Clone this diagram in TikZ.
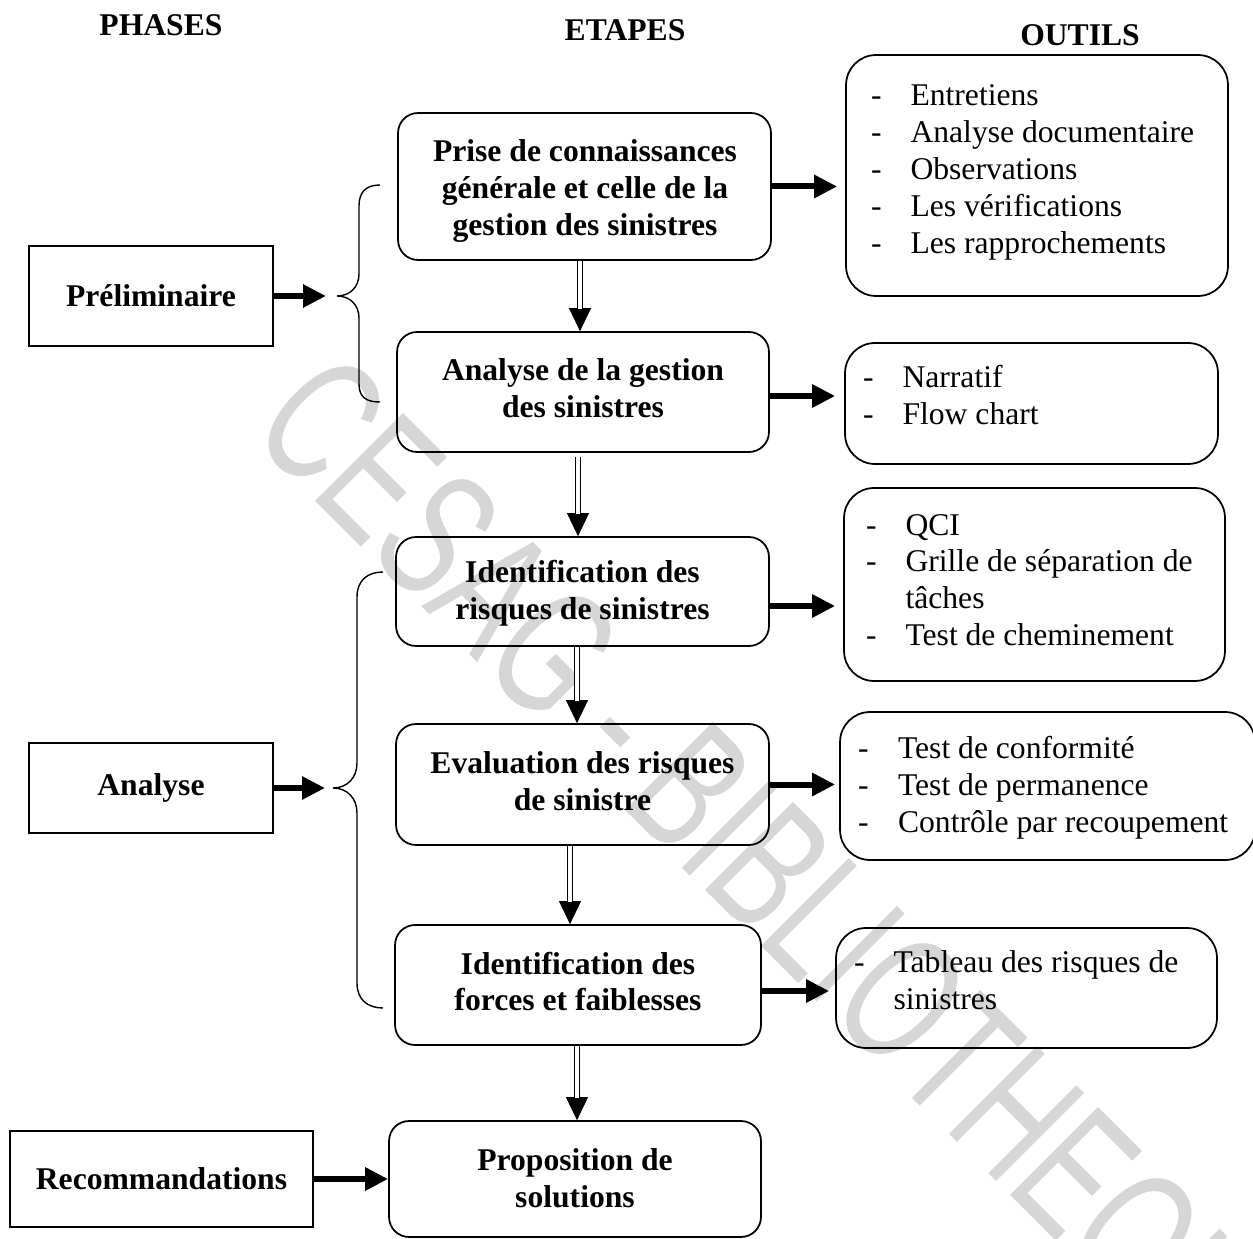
\documentclass[tikz,border=0pt]{standalone}
\usepackage{fontspec}
\setmainfont{Liberation Serif}
\newfontfamily\wmfont{Liberation Sans}
\usetikzlibrary{arrows.meta,calc}
\newcommand\dblarrow[2]{%
  \draw[vtip] #1 -- #2;
  \draw[vshaft] #1 -- #2;}
\begin{document}
\begin{tikzpicture}[x=0.02cm,y=-0.02cm,
  phasebox/.style={draw, line width=1pt, inner sep=0pt,
    font=\fontsize{18}{21}\selectfont\bfseries},
  stepbox/.style={draw, line width=1pt, rounded corners=0.4cm, inner sep=0pt},
  toolbox/.style={draw, line width=1pt, rounded corners=0.6cm, inner sep=0pt},
  steptext/.style={align=center, inner sep=0pt,
    font=\fontsize{18}{21}\selectfont\bfseries},
  tooltext/.style={anchor=west, inner sep=0pt, font=\fontsize{18}{21}\selectfont},
  header/.style={inner sep=0pt, font=\fontsize{18}{21}\selectfont\bfseries},
  harrow/.style={line width=0.12cm, -{Triangle[length=0.46cm,width=0.44cm]}},
  vtip/.style={line width=0.4pt, -{Triangle[length=0.46cm,width=0.44cm]}},
  vshaft/.style={line width=0.03cm, double, double distance=0.07cm, shorten >=0.45cm},
  brace/.style={line width=0.8pt},
  watermark/.style={transform shape, inner sep=0pt, text=black!16,
    font=\wmfont\fontsize{103}{120}\selectfont}
]
\useasboundingbox (0,0) rectangle (1253,1239);

% watermark
\begin{scope}[shift={(778,898)}, rotate=-45, xscale=0.66]
  \node[watermark] (wm) at (0,0) {CESAG - BIBLIOTHEQUE};
\end{scope}

% headers
\node[header] (hPhases) at (161,25) {PHASES};
\node[header] (hEtapes) at (625,30) {ETAPES};
\node[header] (hOutils) at (1080,35) {OUTILS};

% phases
\node[phasebox, minimum width=4.88cm, minimum height=2.0cm] (P1) at (151,296) {Préliminaire};
\node[phasebox, minimum width=4.88cm, minimum height=1.8cm] (P2) at (151,788) {Analyse};
\node[phasebox, minimum width=6.06cm, minimum height=1.92cm] (P3) at (161.5,1179) {Recommandations};

% steps
\node[stepbox, minimum width=7.46cm, minimum height=2.94cm] (S1) at (584.5,186.5) {};
\node[stepbox, minimum width=7.44cm, minimum height=2.4cm] (S2) at (583,392) {};
\node[stepbox, minimum width=7.46cm, minimum height=2.18cm] (S3) at (582.5,591.5) {};
\node[stepbox, minimum width=7.46cm, minimum height=2.42cm] (S4) at (582.5,784.5) {};
\node[stepbox, minimum width=7.32cm, minimum height=2.4cm] (S5) at (578,985) {};
\node[stepbox, minimum width=7.44cm, minimum height=2.32cm] (S6) at (575,1179) {};

\node[steptext] (S1t) at (585,191) {Prise de connaissances\\générale et celle de la\\gestion des sinistres};
\node[steptext] (S2t) at (583,388.5) {Analyse de la gestion\\des sinistres};
\node[steptext] (S3t) at (582.5,593.5) {Identification des\\risques de sinistres};
\node[steptext] (S4t) at (582.5,781) {Evaluation des risques\\de sinistre};
\node[steptext] (S5t) at (578,981.5) {Identification des\\forces et faiblesses};
\node[steptext] (S6t) at (575,1178.5) {Proposition de\\solutions};

% tools
\node[toolbox, minimum width=7.64cm, minimum height=4.82cm] (T1) at (1037,175.5) {};
\node[toolbox, minimum width=7.46cm, minimum height=2.42cm] (T2) at (1031.5,403.5) {};
\node[toolbox, minimum width=7.62cm, minimum height=3.86cm] (T3) at (1034.5,584.5) {};
\node[toolbox, minimum width=8.3cm, minimum height=2.96cm] (T4) at (1047.5,786) {};
\node[toolbox, minimum width=7.62cm, minimum height=2.4cm] (T5) at (1026.5,988) {};

\node[tooltext] (T1t) at (870.7,172) {\begin{tabular}{@{}p{0.79cm}@{}l@{}}
- & Entretiens\\ - & Analyse documentaire\\ - & Observations\\ - & Les vérifications\\ - & Les rapprochements\end{tabular}};
\node[tooltext] (T2t) at (862.7,398.5) {\begin{tabular}{@{}p{0.79cm}@{}l@{}}
- & Narratif\\ - & Flow chart\end{tabular}};
\node[tooltext] (T3t) at (865.7,583) {\begin{tabular}{@{}p{0.79cm}@{}l@{}}
- & QCI\\ - & Grille de séparation de\\ & tâches\\ - & Test de cheminement\end{tabular}};
\node[tooltext] (T4t) at (857.7,788) {\begin{tabular}{@{}p{0.8cm}@{}l@{}}
- & Test de conformité\\ - & Test de permanence\\ - & Contrôle par recoupement\end{tabular}};
\node[tooltext] (T5t) at (853.7,983.5) {\begin{tabular}{@{}p{0.79cm}@{}l@{}}
- & Tableau des risques de\\ & sinistres\end{tabular}};

% braces
\draw[brace] (380,185) .. controls (366,185) and (359,192) .. (359,206) -- (359,274)
  .. controls (359,287) and (350,296) .. (337,296)
  .. controls (350,296) and (359,305) .. (359,318) -- (359,384)
  .. controls (359,397) and (366,402) .. (380,402);
\draw[brace] (383,572) .. controls (368,572) and (357,580) .. (357,597) -- (357,763)
  .. controls (357,778) and (347,788) .. (333,788)
  .. controls (347,788) and (357,798) .. (357,813) -- (357,983)
  .. controls (357,1000) and (368,1008) .. (383,1008);
\coordinate (B1) at (326,296);
\coordinate (B2) at (325,788);

% phase arrows
\draw[harrow] (P1.east) -- (B1);
\draw[harrow] (P2.east) -- (B2);
\draw[harrow] (P3.east) -- (S6.west |- P3.east);

% step -> tool arrows
\draw[harrow] (S1.east) -- ($(S1.east -| T1.west)+(-8,0)$);
\draw[harrow] ($(S2.east)+(0,4)$) -- ($(S2.east -| T2.west)+(-9,4)$);
\draw[harrow] ($(S3.east)+(0,14.5)$) -- ($(S3.east -| T3.west)+(-8,14.5)$);
\draw[harrow] (S4.east) -- ($(S4.east -| T4.west)+(-4,0)$);
\draw[harrow] ($(S5.east)+(0,6)$) -- ($(S5.east -| T5.west)+(-6,6)$);

% step -> step double arrows
\dblarrow{($(S1.south)+(-4.5,0)$)}{($(S2.north)+(-3,0)$)}
\dblarrow{($(S2.south)+(-5,4)$)}{($(S3.north)+(-4.5,0)$)}
\dblarrow{($(S3.south)+(-5.5,0)$)}{($(S4.north)+(-5.5,0)$)}
\dblarrow{($(S4.south)+(-12.5,0)$)}{($(S5.north)+(-8,0)$)}
\dblarrow{($(S5.south)+(-1,0)$)}{($(S6.north)+(2,0)$)}
\end{tikzpicture}
\end{document}
